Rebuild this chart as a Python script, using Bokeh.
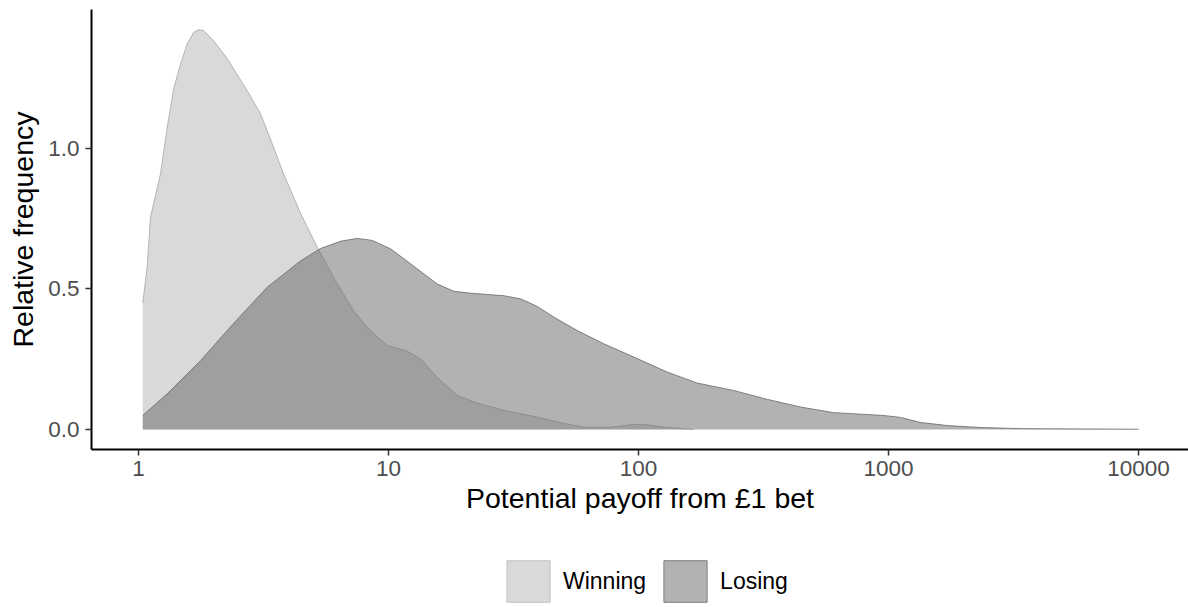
from bokeh.plotting import figure
from bokeh.layouts import column
from bokeh.models import (ColumnDataSource, FixedTicker, PrintfTickFormatter,
                          Legend, LegendItem, Range1d)
from bokeh.embed import file_html
from bokeh.resources import INLINE

# ---- data ----
win_payoff = [1.04, 1.083, 1.117, 1.225, 1.303, 1.380, 1.472, 1.566, 1.664, 1.738,
              1.820, 1.995, 2.264, 2.721, 3.076, 3.467, 3.802, 4.446, 5.186, 6.026,
              7.244, 8.221, 8.472, 9.88, 11.885, 13.43, 15.66, 18.84, 22.64, 28.93,
              39.35, 50.25, 60.41, 77.27, 95.5, 104.7, 128.2, 166.0]
win_density = [0.45, 0.578, 0.755, 0.91, 1.076, 1.21, 1.30, 1.372, 1.414, 1.423,
               1.42, 1.384, 1.32, 1.206, 1.124, 1.005, 0.91, 0.77, 0.649, 0.542,
               0.423, 0.364, 0.352, 0.299, 0.279, 0.251, 0.186, 0.121, 0.094, 0.068,
               0.044, 0.022, 0.008, 0.008, 0.018, 0.018, 0.008, 0.0]

lose_payoff = [1.04, 1.303, 1.770, 2.399, 3.271, 4.446, 5.346, 6.427, 7.5, 8.6,
               10.19, 12.25, 15.66, 18.25, 21.28, 28.93, 33.73, 39.35, 45.84, 56.89,
               72.63, 92.90, 130.6, 172.2, 239.9, 328.1, 444.6, 602.6, 955.0, 1117.0,
               1343.0, 1722.0, 2333.0, 3373.0, 10000.0]
lose_density = [0.05, 0.127, 0.245, 0.377, 0.506, 0.60, 0.644, 0.67, 0.68, 0.673,
                0.643, 0.59, 0.518, 0.492, 0.485, 0.476, 0.465, 0.438, 0.40, 0.352,
                0.305, 0.263, 0.204, 0.165, 0.139, 0.107, 0.08, 0.06, 0.05, 0.043,
                0.025, 0.014, 0.007, 0.003, 0.001]

x_ticks = [1, 10, 100, 1000, 10000]
y_ticks = [0.0, 0.5, 1.0]
series_names = ["Winning", "Losing"]

FONT = "Liberation Sans"
WIN_FILL, LOSE_FILL = "#b3b3b3", "#666666"

p = figure(width=1188, height=523, x_axis_type="log",
           output_backend="svg", toolbar_location=None,
           x_range=Range1d(10 ** -0.188, 10 ** 4.2),
           y_range=Range1d(-0.0712, 1.4947),
           min_border_left=91, min_border_right=0, min_border_top=9,
           min_border_bottom=74)

win_src = ColumnDataSource(dict(x=win_payoff, y=win_density, z=[0.0] * len(win_payoff)))
lose_src = ColumnDataSource(dict(x=lose_payoff, y=lose_density, z=[0.0] * len(lose_payoff)))

p.varea(x="x", y1="z", y2="y", source=win_src, fill_color=WIN_FILL, fill_alpha=0.5)
p.line(x="x", y="y", source=win_src, line_color="#a6a6a6", line_width=0.8)
p.varea(x="x", y1="z", y2="y", source=lose_src, fill_color=LOSE_FILL, fill_alpha=0.5)
p.line(x="x", y="y", source=lose_src, line_color="#666666", line_width=0.8)

# axes styling
for ax in (p.xaxis[0], p.yaxis[0]):
    ax.axis_line_color = "black"
    ax.axis_line_width = 2
    ax.major_tick_line_color = "#333333"
    ax.major_tick_line_width = 1.5
    ax.major_tick_out = 6
    ax.major_tick_in = 0
    ax.minor_tick_line_color = None
    ax.major_label_text_font = FONT
    ax.major_label_text_font_size = "22.5px"
    ax.major_label_text_color = "#4d4d4d"
    ax.axis_label_text_font = FONT
    ax.axis_label_text_font_size = "28.5px"
    ax.axis_label_text_font_style = "normal"
    ax.axis_label_text_color = "#000000"

p.xaxis.ticker = FixedTicker(ticks=x_ticks)
p.xaxis.formatter = PrintfTickFormatter(format="%d")
p.xaxis.axis_label = "Potential payoff from £1 bet"
p.xaxis.major_label_standoff = 5
p.xaxis.axis_label_standoff = 3

p.yaxis.ticker = FixedTicker(ticks=y_ticks)
p.yaxis.formatter = PrintfTickFormatter(format="%.1f")
p.yaxis.axis_label = "Relative frequency"
p.yaxis.major_label_standoff = 6
p.yaxis.axis_label_standoff = 6

p.xgrid.visible = False
p.ygrid.visible = False
p.outline_line_color = None
p.background_fill_color = "white"
p.border_fill_color = "white"

# ---- legend strip (series patches lie outside this strip's ranges, so only the keys show) ----
lg = figure(width=1188, height=84, output_backend="svg", toolbar_location=None,
            x_range=Range1d(0, 1), y_range=Range1d(0, 1),
            x_axis_location=None, y_axis_location=None,
            min_border_left=0, min_border_right=0, min_border_top=0, min_border_bottom=0)
lg.xgrid.visible = False
lg.ygrid.visible = False
lg.outline_line_color = None

rw = lg.patch(x="x", y="y", source=win_src,
              fill_color=WIN_FILL, fill_alpha=0.5, line_color="#c4c4c4", line_width=1)
rl = lg.patch(x="x", y="y", source=lose_src,
              fill_color=LOSE_FILL, fill_alpha=0.5, line_color="#7f7f7f", line_width=1)

legend = Legend(items=[LegendItem(label=series_names[0], renderers=[rw]),
                       LegendItem(label=series_names[1], renderers=[rl])],
                orientation="horizontal", location=(410, 0),
                glyph_width=54, glyph_height=52, label_standoff=8, spacing=12,
                label_text_font=FONT, label_text_font_size="23px",
                label_text_color="#000000", border_line_color=None,
                background_fill_alpha=0, padding=0, margin=0)
lg.add_layout(legend)

layout = column(p, lg, spacing=0)
open("out.html", "w").write(file_html(layout, INLINE))
